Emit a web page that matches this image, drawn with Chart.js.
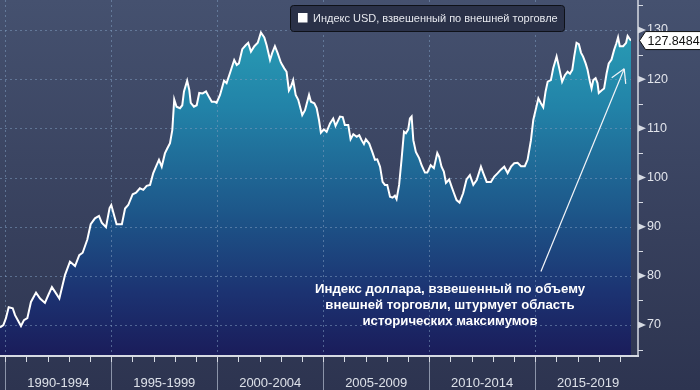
<!DOCTYPE html>
<html>
<head>
<meta charset="utf-8">
<script src="https://cdn.jsdelivr.net/npm/chart.js@4.4.1/dist/chart.umd.min.js"></script>
<style>
  html, body { margin: 0; padding: 0; background: #3a4461; }
  #wrap { width: 700px; height: 390px; }
</style>
</head>
<body>
<div id="wrap"><canvas id="usdChart" width="700" height="390"></canvas></div>
<script>
// Trade-weighted USD index (decimal years)
const YEARS = [
    1989.75, 1989.91, 1990.03, 1990.16, 1990.35, 1990.46, 1990.61, 1990.74, 1990.88, 1991.04,
    1991.21, 1991.45, 1991.64, 1991.87, 1992.03, 1992.20, 1992.34, 1992.55, 1992.82, 1993.05,
    1993.29, 1993.49, 1993.65, 1993.87, 1994.03, 1994.23, 1994.42, 1994.55, 1994.75, 1994.92,
    1995.00, 1995.09, 1995.25, 1995.38, 1995.50, 1995.65, 1995.80, 1996.01, 1996.17, 1996.35,
    1996.51, 1996.67, 1996.83, 1996.98, 1997.14, 1997.25, 1997.38, 1997.53, 1997.64, 1997.77,
    1997.88, 1997.97, 1998.08, 1998.24, 1998.35, 1998.43, 1998.58, 1998.68, 1998.75, 1998.90,
    1999.03, 1999.15, 1999.31, 1999.47, 1999.62, 1999.74, 1999.89, 1999.97, 2000.13, 2000.32,
    2000.44, 2000.62, 2000.80, 2000.92, 2001.02, 2001.18, 2001.34, 2001.46, 2001.59, 2001.75,
    2001.91, 2002.06, 2002.22, 2002.33, 2002.49, 2002.59, 2002.72, 2002.85, 2003.00, 2003.16,
    2003.27, 2003.38, 2003.48, 2003.58, 2003.70, 2003.82, 2004.01, 2004.14, 2004.33, 2004.42,
    2004.58, 2004.69, 2004.80, 2004.89, 2005.03, 2005.16, 2005.32, 2005.47, 2005.58, 2005.79,
    2005.92, 2006.02, 2006.18, 2006.29, 2006.42, 2006.58, 2006.70, 2006.81, 2006.92, 2007.01,
    2007.17, 2007.33, 2007.44, 2007.55, 2007.68, 2007.80, 2007.91, 2008.02, 2008.15, 2008.27,
    2008.38, 2008.46, 2008.58, 2008.70, 2008.81, 2008.90, 2009.01, 2009.09, 2009.17, 2009.25,
    2009.37, 2009.53, 2009.64, 2009.80, 2009.91, 2010.07, 2010.22, 2010.38, 2010.47, 2010.58,
    2010.69, 2010.79, 2010.94, 2011.06, 2011.16, 2011.29, 2011.43, 2011.60, 2011.76, 2011.92,
    2012.08, 2012.24, 2012.44, 2012.55, 2012.71, 2012.91, 2013.07, 2013.23, 2013.38, 2013.54,
    2013.70, 2013.86, 2014.01, 2014.17, 2014.33, 2014.51, 2014.64, 2014.80, 2014.91, 2015.04,
    2015.15, 2015.27, 2015.38, 2015.49, 2015.59, 2015.74, 2015.85, 2016.01, 2016.12, 2016.27,
    2016.40, 2016.53, 2016.64, 2016.75, 2016.84, 2016.95, 2017.06, 2017.16, 2017.26, 2017.38,
    2017.47, 2017.58, 2017.66, 2017.74, 2017.85, 2017.94, 2018.00, 2018.13, 2018.25, 2018.37,
    2018.47, 2018.60, 2018.72, 2018.83, 2018.91, 2018.99, 2019.15, 2019.29, 2019.36, 2019.44,
    2019.52
];

const USD_INDEX = [
    69.5, 70.0, 71.4, 73.6, 73.4, 72.0, 70.8, 69.8, 71.0, 71.4,
    74.7, 76.6, 75.4, 74.5, 76.1, 77.7, 76.8, 75.4, 80.2, 82.9,
    82.0, 84.2, 84.7, 87.4, 90.5, 91.7, 92.2, 90.8, 89.9, 93.8,
    94.4, 93.0, 90.5, 90.5, 90.5, 93.7, 94.4, 96.6, 96.9, 97.8,
    97.5, 98.3, 98.5, 100.9, 102.5, 103.6, 102.2, 104.9, 105.9, 107.0,
    109.7, 115.9, 114.4, 114.1, 114.7, 117.5, 119.7, 117.8, 115.2, 114.4,
    114.7, 117.2, 117.1, 117.5, 116.3, 115.4, 115.4, 115.2, 116.8, 119.7,
    119.2, 121.5, 123.9, 122.9, 123.2, 126.1, 126.9, 127.4, 125.6, 126.7,
    127.4, 129.5, 128.5, 126.9, 123.9, 125.3, 126.7, 125.3, 123.4, 122.2,
    121.5, 117.7, 118.5, 119.8, 116.8, 115.8, 112.7, 113.7, 116.8, 115.4,
    115.1, 114.1, 111.7, 109.1, 109.8, 109.3, 111.0, 112.0, 110.5, 112.4,
    112.3, 110.7, 110.7, 107.8, 108.8, 108.3, 108.6, 107.6, 106.8, 107.8,
    106.9, 105.0, 103.6, 103.7, 102.2, 99.1, 98.5, 98.5, 96.1, 95.9,
    96.3, 95.6, 98.5, 103.9, 109.3, 109.0, 109.8, 112.0, 112.4, 107.6,
    105.2, 103.9, 102.5, 101.0, 101.0, 102.5, 101.9, 105.0, 104.2, 102.2,
    101.2, 98.9, 99.6, 98.1, 96.9, 95.4, 94.9, 96.8, 99.6, 100.5,
    98.5, 99.5, 102.2, 100.9, 99.1, 99.1, 100.2, 100.9, 101.6, 102.2,
    100.9, 102.2, 102.9, 103.0, 102.3, 102.3, 103.6, 107.6, 111.7, 114.1,
    116.1, 115.1, 114.3, 117.5, 119.5, 119.8, 122.2, 124.6, 122.5, 119.5,
    120.8, 121.5, 121.1, 121.9, 124.6, 127.4, 127.1, 125.4, 124.6, 123.2,
    121.9, 119.5, 118.1, 119.8, 120.2, 119.2, 117.2, 117.7, 118.1, 121.2,
    123.2, 124.0, 125.9, 127.3, 128.5, 126.7, 126.7, 127.4, 128.8, 128.3,
    127.8484
];

const PERIOD_CENTERS = [1992.5, 1997.5, 2002.5, 2007.5, 2012.5, 2017.5];
const PERIOD_LABELS = ['1990-1994', '1995-1999', '2000-2004', '2005-2009', '2010-2014', '2015-2019'];
const PERIOD_STARTS = [1990, 1995, 2000, 2005, 2010, 2015];
const Y_GRID = [70, 80, 90, 100, 110, 120, 130];

const LEGEND_TEXT = 'Индекс USD, взвешенный по внешней торговле';
const NOTE_LINES = [
    'Индекс доллара, взвешенный по объему',
    'внешней торговли, штурмует область',
    'исторических максимумов'
];

const FONT = '"Liberation Sans", Arial, sans-serif';
const AXIS_COLOR = '#d6dae3';

function strokeLine(ctx, x1, y1, x2, y2) {
    ctx.beginPath();
    ctx.moveTo(x1, y1);
    ctx.lineTo(x2, y2);
    ctx.stroke();
}

function areaGradient(context) {
    const area = context.chart.chartArea;
    if (!area) return '#1f6796';
    const g = context.chart.ctx.createLinearGradient(0, area.top, 0, area.bottom);
    g.addColorStop(0, '#2ba6ba');
    g.addColorStop(0.3, '#2283a8');
    g.addColorStop(0.6, '#1d5689');
    g.addColorStop(0.82, '#1c3372');
    g.addColorStop(1, '#1a1c5a');
    return g;
}

// scales should not add room for half-labels at the ends
function noEdgePadding(s) {
    s.paddingTop = 0;
    s.paddingBottom = 0;
    s.paddingLeft = 0;
    s.paddingRight = 0;
}

const decorPlugin = {
    id: 'decor',
    beforeDraw(chart) {
        const { ctx, width, height } = chart;
        const g = ctx.createLinearGradient(0, 0, 0, height);
        g.addColorStop(0, '#45516f');
        g.addColorStop(1, '#2d3450');
        ctx.save();
        ctx.fillStyle = g;
        ctx.fillRect(0, 0, width, height);
        ctx.restore();
    },
    // dotted grid goes over the filled area but under the white line
    afterDatasetDraw(chart, args) {
        if (args.index !== 0) return;
        const { ctx, chartArea: a, scales: { x, y } } = chart;
        ctx.save();
        ctx.strokeStyle = 'rgba(125,155,190,0.55)';
        ctx.lineWidth = 1;
        ctx.setLineDash([2, 3]);
        Y_GRID.forEach(v => {
            const py = Math.round(y.getPixelForValue(v)) + 0.5;
            strokeLine(ctx, a.left, py, a.right, py);
        });
        PERIOD_STARTS.forEach(yr => {
            const px = Math.round(x.getPixelForValue(yr)) + 0.5;
            strokeLine(ctx, px, a.top, px, a.bottom);
        });
        ctx.restore();
    },
    afterDraw(chart) {
        const { ctx, chartArea: a, scales: { x, y }, width, height } = chart;
        const axisX = a.right + 7;
        ctx.save();

        // x axis: separators between periods and yearly ticks
        ctx.strokeStyle = '#8b94a9';
        ctx.lineWidth = 1;
        PERIOD_STARTS.forEach(yr => {
            const px = Math.round(x.getPixelForValue(yr)) + 0.5;
            strokeLine(ctx, px, a.bottom, px, height);
        });
        ctx.strokeStyle = AXIS_COLOR;
        for (let yr = 1990; yr <= 2019; yr++) {
            const px = Math.round(x.getPixelForValue(yr)) + 0.5;
            strokeLine(ctx, px, a.bottom, px, a.bottom + 6);
        }

        // axis lines
        ctx.lineWidth = 2;
        strokeLine(ctx, 0, a.bottom, axisX + 1, a.bottom);
        ctx.lineWidth = 1.5;
        strokeLine(ctx, axisX, 0, axisX, a.bottom);

        // y axis: triangles at labelled values, short ticks in between
        ctx.fillStyle = AXIS_COLOR;
        ctx.lineWidth = 1;
        Y_GRID.forEach(v => {
            const py = y.getPixelForValue(v);
            ctx.beginPath();
            ctx.moveTo(axisX, py - 3.5);
            ctx.lineTo(axisX + 8, py);
            ctx.lineTo(axisX, py + 3.5);
            ctx.closePath();
            ctx.fill();
            const pm = Math.round(y.getPixelForValue(v - 5)) + 0.5;
            strokeLine(ctx, axisX, pm, axisX + 5, pm);
        });
        const p135 = Math.round(y.getPixelForValue(135)) + 0.5;
        strokeLine(ctx, axisX, p135, axisX + 5, p135);

        // last value marker
        const last = USD_INDEX[USD_INDEX.length - 1];
        const ly = y.getPixelForValue(last);
        ctx.beginPath();
        ctx.moveTo(axisX + 1.5, ly);
        ctx.lineTo(axisX + 7.5, ly - 9);
        ctx.lineTo(width + 2, ly - 9);
        ctx.lineTo(width + 2, ly + 9);
        ctx.lineTo(axisX + 7.5, ly + 9);
        ctx.closePath();
        ctx.fillStyle = '#ffffff';
        ctx.fill();
        ctx.strokeStyle = '#111111';
        ctx.lineWidth = 1;
        ctx.stroke();
        ctx.fillStyle = '#111111';
        ctx.font = '12.5px ' + FONT;
        ctx.textAlign = 'left';
        ctx.textBaseline = 'middle';
        ctx.fillText(last.toFixed(4), axisX + 9.5, ly + 0.5);

        // legend box
        ctx.beginPath();
        ctx.roundRect(290.5, 5.5, 274, 26, 3);
        ctx.fillStyle = '#2a3148';
        ctx.fill();
        ctx.strokeStyle = '#0e1118';
        ctx.stroke();
        ctx.fillStyle = '#ffffff';
        ctx.fillRect(298, 13, 9.5, 9.5);
        ctx.fillStyle = '#e6e8ee';
        ctx.font = '11px ' + FONT;
        ctx.fillText(LEGEND_TEXT, 313, 18.5);

        // annotation arrow
        const x0 = x.getPixelForValue(2015.27), y0 = y.getPixelForValue(80.9);
        const x1 = x.getPixelForValue(2019.2), y1 = y.getPixelForValue(122.1);
        ctx.strokeStyle = '#f2f4f8';
        ctx.lineWidth = 1.2;
        strokeLine(ctx, x0, y0, x1, y1);
        strokeLine(ctx, x1, y1, x1 - 12.5, y1 + 9);
        strokeLine(ctx, x1, y1, x1 + 1.5, y1 + 15);

        // annotation text
        ctx.fillStyle = '#ffffff';
        ctx.font = 'bold 13.2px ' + FONT;
        ctx.textAlign = 'center';
        NOTE_LINES.forEach((t, i) => ctx.fillText(t, 450, 289 + i * 16));

        ctx.restore();
    }
};

const ctx = document.getElementById('usdChart').getContext('2d');
const points = YEARS.map((yr, i) => ({ x: yr, y: USD_INDEX[i] }));

new Chart(ctx, {
    type: 'line',
    data: {
        datasets: [
            {
                label: 'fill',
                data: points,
                order: 2,
                borderWidth: 0,
                pointRadius: 0,
                backgroundColor: areaGradient,
                fill: 'start'
            },
            {
                label: LEGEND_TEXT,
                data: points,
                order: 1,
                borderColor: '#ffffff',
                borderWidth: 2,
                pointRadius: 0,
                tension: 0,
                fill: false
            }
        ]
    },
    options: {
        responsive: false,
        animation: false,
        layout: { padding: 0, autoPadding: false },
        plugins: {
            legend: { display: false },
            tooltip: { enabled: false }
        },
        scales: {
            x: {
                type: 'linear',
                min: 1989.75,
                max: 2019.52,
                grid: { display: false, drawTicks: false },
                border: { display: false },
                afterBuildTicks: s => { s.ticks = PERIOD_CENTERS.map(v => ({ value: v })); },
                afterFit: s => { s.height = 34; noEdgePadding(s); },
                ticks: {
                    autoSkip: false,
                    maxRotation: 0,
                    padding: 20,
                    color: '#dde1e9',
                    font: { family: FONT, size: 13 },
                    callback: (v, i) => PERIOD_LABELS[i]
                }
            },
            y: {
                position: 'right',
                min: 63.7,
                max: 136.1,
                grid: { display: false, drawTicks: false },
                border: { display: false },
                afterFit: s => { s.width = 69; noEdgePadding(s); },
                ticks: {
                    stepSize: 10,
                    includeBounds: false,
                    padding: 16,
                    color: '#e2e5ec',
                    font: { family: FONT, size: 12.5 }
                }
            }
        }
    },
    plugins: [decorPlugin]
});
</script>
</body>
</html>
